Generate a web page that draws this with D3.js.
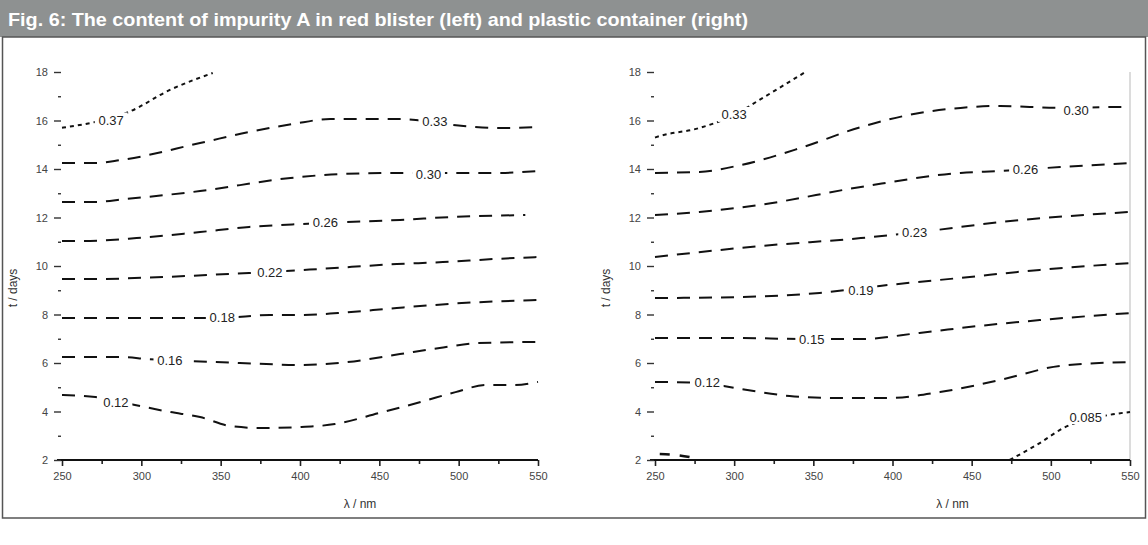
<!DOCTYPE html>
<html>
<head>
<meta charset="utf-8">
<script src="https://cdn.jsdelivr.net/npm/d3@7"></script>
<style>
  body { margin: 0; background: #fff; }
  text { font-family: "Liberation Sans", Arial, sans-serif; }
</style>
</head>
<body>
<svg id="fig" width="1148" height="545"></svg>
<script>
// ===== data: [lambda nm, t days] =====
var xTicks = [250, 300, 350, 400, 450, 500, 550];
var xMinor = [275, 325, 375, 425, 475, 525];
var yTicks = [2, 4, 6, 8, 10, 12, 14, 16, 18];
var yMinor = [3, 5, 7, 9, 11, 13, 15, 17];

// red blister (left)
var leftLevels = ["0.37", "0.33", "0.30", "0.26", "0.22", "0.18", "0.16", "0.12"];
var leftLines = [
  [[250,15.7],[253,15.73],[271,15.94],[292,16.35],[318,17.26],[345,17.96]],
  [[250,14.25],[271,14.25],[287,14.37],[337,15.07],[368,15.53],[396,15.86],[419,16.06],[463,16.06],[503,15.77],[526,15.69],[550,15.73]],
  [[250,12.64],[270,12.64],[290,12.76],[337,13.09],[394,13.63],[425,13.79],[463,13.84],[495,13.84],[526,13.84],[550,13.92]],
  [[250,11.03],[263,11.03],[297,11.15],[337,11.40],[368,11.61],[400,11.73],[428,11.81],[463,11.90],[495,12.02],[542,12.10]],
  [[250,9.46],[268,9.46],[315,9.55],[355,9.67],[368,9.71],[413,9.88],[461,10.08],[490,10.16],[523,10.29],[550,10.37]],
  [[250,7.86],[274,7.86],[305,7.86],[350,7.86],[381,7.98],[400,7.98],[424,8.06],[461,8.27],[502,8.47],[550,8.60]],
  [[250,6.25],[288,6.25],[304,6.16],[331,6.08],[362,6.00],[400,5.92],[430,6.04],[463,6.37],[488,6.62],[512,6.82],[550,6.87]],
  [[250,4.68],[271,4.60],[296,4.27],[318,3.98],[337,3.77],[356,3.40],[375,3.32],[400,3.36],[422,3.48],[450,3.94],[476,4.39],[498,4.80],[517,5.09],[534,5.09],[550,5.22]]
];
var leftLabelPos = [[281,16.0],[485,15.94],[481,13.79],[416,11.81],[381,9.75],[351,7.86],[318,6.12],[284,4.39]];

// plastic container (right)
var rightLevels = ["0.33", "0.30", "0.26", "0.23", "0.19", "0.15", "0.12", "0.085"];
var rightLines = [
  [[250,15.3],[253,15.36],[278,15.69],[300,16.23],[316,16.85],[345,18.0]],
  [[250,13.84],[278,13.88],[304,14.16],[342,14.87],[380,15.73],[417,16.31],[443,16.52],[468,16.60],[506,16.52],[544,16.56],[550,16.56]],
  [[250,12.10],[278,12.23],[316,12.52],[380,13.26],[443,13.84],[468,13.92],[506,14.08],[550,14.25]],
  [[250,10.37],[316,10.82],[380,11.15],[417,11.40],[468,11.81],[550,12.23]],
  [[250,8.68],[304,8.72],[354,8.89],[392,9.18],[443,9.51],[493,9.84],[550,10.12]],
  [[250,7.03],[304,7.03],[342,6.99],[380,6.99],[417,7.24],[455,7.53],[493,7.77],[550,8.06]],
  [[250,5.22],[278,5.18],[304,4.93],[335,4.64],[361,4.56],[398,4.56],[430,4.80],[468,5.30],[506,5.88],[550,6.04]],
  [[474,2.0],[493,2.70],[508,3.32],[537,3.86],[550,3.98]]
];
var rightExtra = [[253,2.25],[263,2.21],[275,2.08]];
var rightLabelPos = [[300,16.23],[516,16.43],[484,13.96],[414,11.40],[380,9.01],[349,6.95],[283,5.18],[522,3.77]];

var title = "Fig. 6: The content of impurity A in red blister (left) and plastic container (right)";
var xTitle = "\u03bb / nm";
var yTitle = "t / days";

// ===== drawing =====
var svg = d3.select("#fig");

svg.append("rect").attr("x", 0).attr("y", 0).attr("width", 1148).attr("height", 37)
  .attr("fill", "#8e9191");
svg.append("text").attr("x", 8).attr("y", 26)
  .attr("fill", "#fff")
  .style("font-family", "'Liberation Sans Narrow', 'Arial Narrow', sans-serif")
  .style("font-weight", "bold").style("font-size", "19px")
  .attr("textLength", 740).attr("lengthAdjust", "spacingAndGlyphs")
  .text(title);
svg.append("rect").attr("x", 2.5).attr("y", 37).attr("width", 1143).attr("height", 481)
  .attr("fill", "none").attr("stroke", "#555").attr("stroke-width", 1.5);

function panel(x0, x1, lines, levels, labelPos, extra, dotted, rightBorder) {
  var x = d3.scaleLinear().domain([250, 550]).range([x0, x1]);
  var y = d3.scaleLinear().domain([2, 18]).range([460, 72]);
  var g = svg.append("g");

  if (rightBorder) {
    g.append("line").attr("x1", x1).attr("x2", x1).attr("y1", 72).attr("y2", 460)
      .attr("stroke", "#d0d0d0").attr("stroke-width", 1.5);
  }

  // x axis
  var xa = g.append("g").attr("transform", "translate(0,460)");
  xa.call(d3.axisBottom(x).tickValues(xTicks).tickSize(6).tickPadding(6));
  xa.append("g").call(d3.axisBottom(x).tickValues(xMinor).tickSize(4).tickFormat(""))
    .select(".domain").remove();
  xa.select(".domain").remove();
  xa.append("line").attr("x1", x0 - 5).attr("x2", x1).attr("stroke", "#111").attr("stroke-width", 2.2);
  xa.selectAll(".tick line").attr("stroke", "#222").attr("stroke-width", 1.6);
  xa.selectAll(".tick text").attr("fill", "#444").style("font-size", "11px");

  // y axis (no spine, as in the scan)
  var ya = g.append("g").attr("transform", "translate(" + (x0 - 1) + ",0)");
  ya.call(d3.axisLeft(y).tickValues(yTicks).tickSize(7).tickPadding(6));
  ya.append("g").call(d3.axisLeft(y).tickValues(yMinor).tickSize(3).tickFormat(""))
    .select(".domain").remove();
  ya.select(".domain").remove();
  ya.selectAll(".tick line").attr("stroke", "#333").attr("stroke-width", 1.4);
  ya.selectAll(".tick text").attr("fill", "#444").style("font-size", "11px");

  g.append("text").attr("x", (x0 + x1) / 2 + 60).attr("y", 508)
    .attr("text-anchor", "middle").style("font-size", "12px").attr("fill", "#333").text(xTitle);
  g.append("text").attr("transform", "translate(" + (x0 - 45) + ",288) rotate(-90)")
    .attr("text-anchor", "middle").style("font-size", "12px").attr("fill", "#333").text(yTitle);

  var line = d3.line().x(function(d) { return x(d[0]); }).y(function(d) { return y(d[1]); })
    .curve(d3.curveMonotoneX);

  lines.forEach(function(pts, i) {
    g.append("path").attr("d", line(pts)).attr("fill", "none")
      .attr("stroke", "#111").attr("stroke-width", 2)
      .attr("stroke-dasharray", dotted.indexOf(i) >= 0 ? "4,4" : "13,9");
  });
  if (extra) {
    g.append("path").attr("d", line(extra)).attr("fill", "none")
      .attr("stroke", "#111").attr("stroke-width", 2.5).attr("stroke-dasharray", "10,10");
  }

  levels.forEach(function(lv, i) {
    var px = x(labelPos[i][0]), py = y(labelPos[i][1]);
    var w = lv.length * 7.2 + 4;
    g.append("rect").attr("x", px - w / 2).attr("y", py - 8).attr("width", w).attr("height", 15)
      .attr("fill", "#fff");
    g.append("text").attr("x", px).attr("y", py + 4.5).attr("text-anchor", "middle")
      .style("font-size", "13px").attr("fill", "#222").text(lv);
  });
}

panel(62, 538, leftLines, leftLevels, leftLabelPos, null, [0], false);
panel(655, 1130, rightLines, rightLevels, rightLabelPos, rightExtra, [0, 7], true);
</script>
</body>
</html>
